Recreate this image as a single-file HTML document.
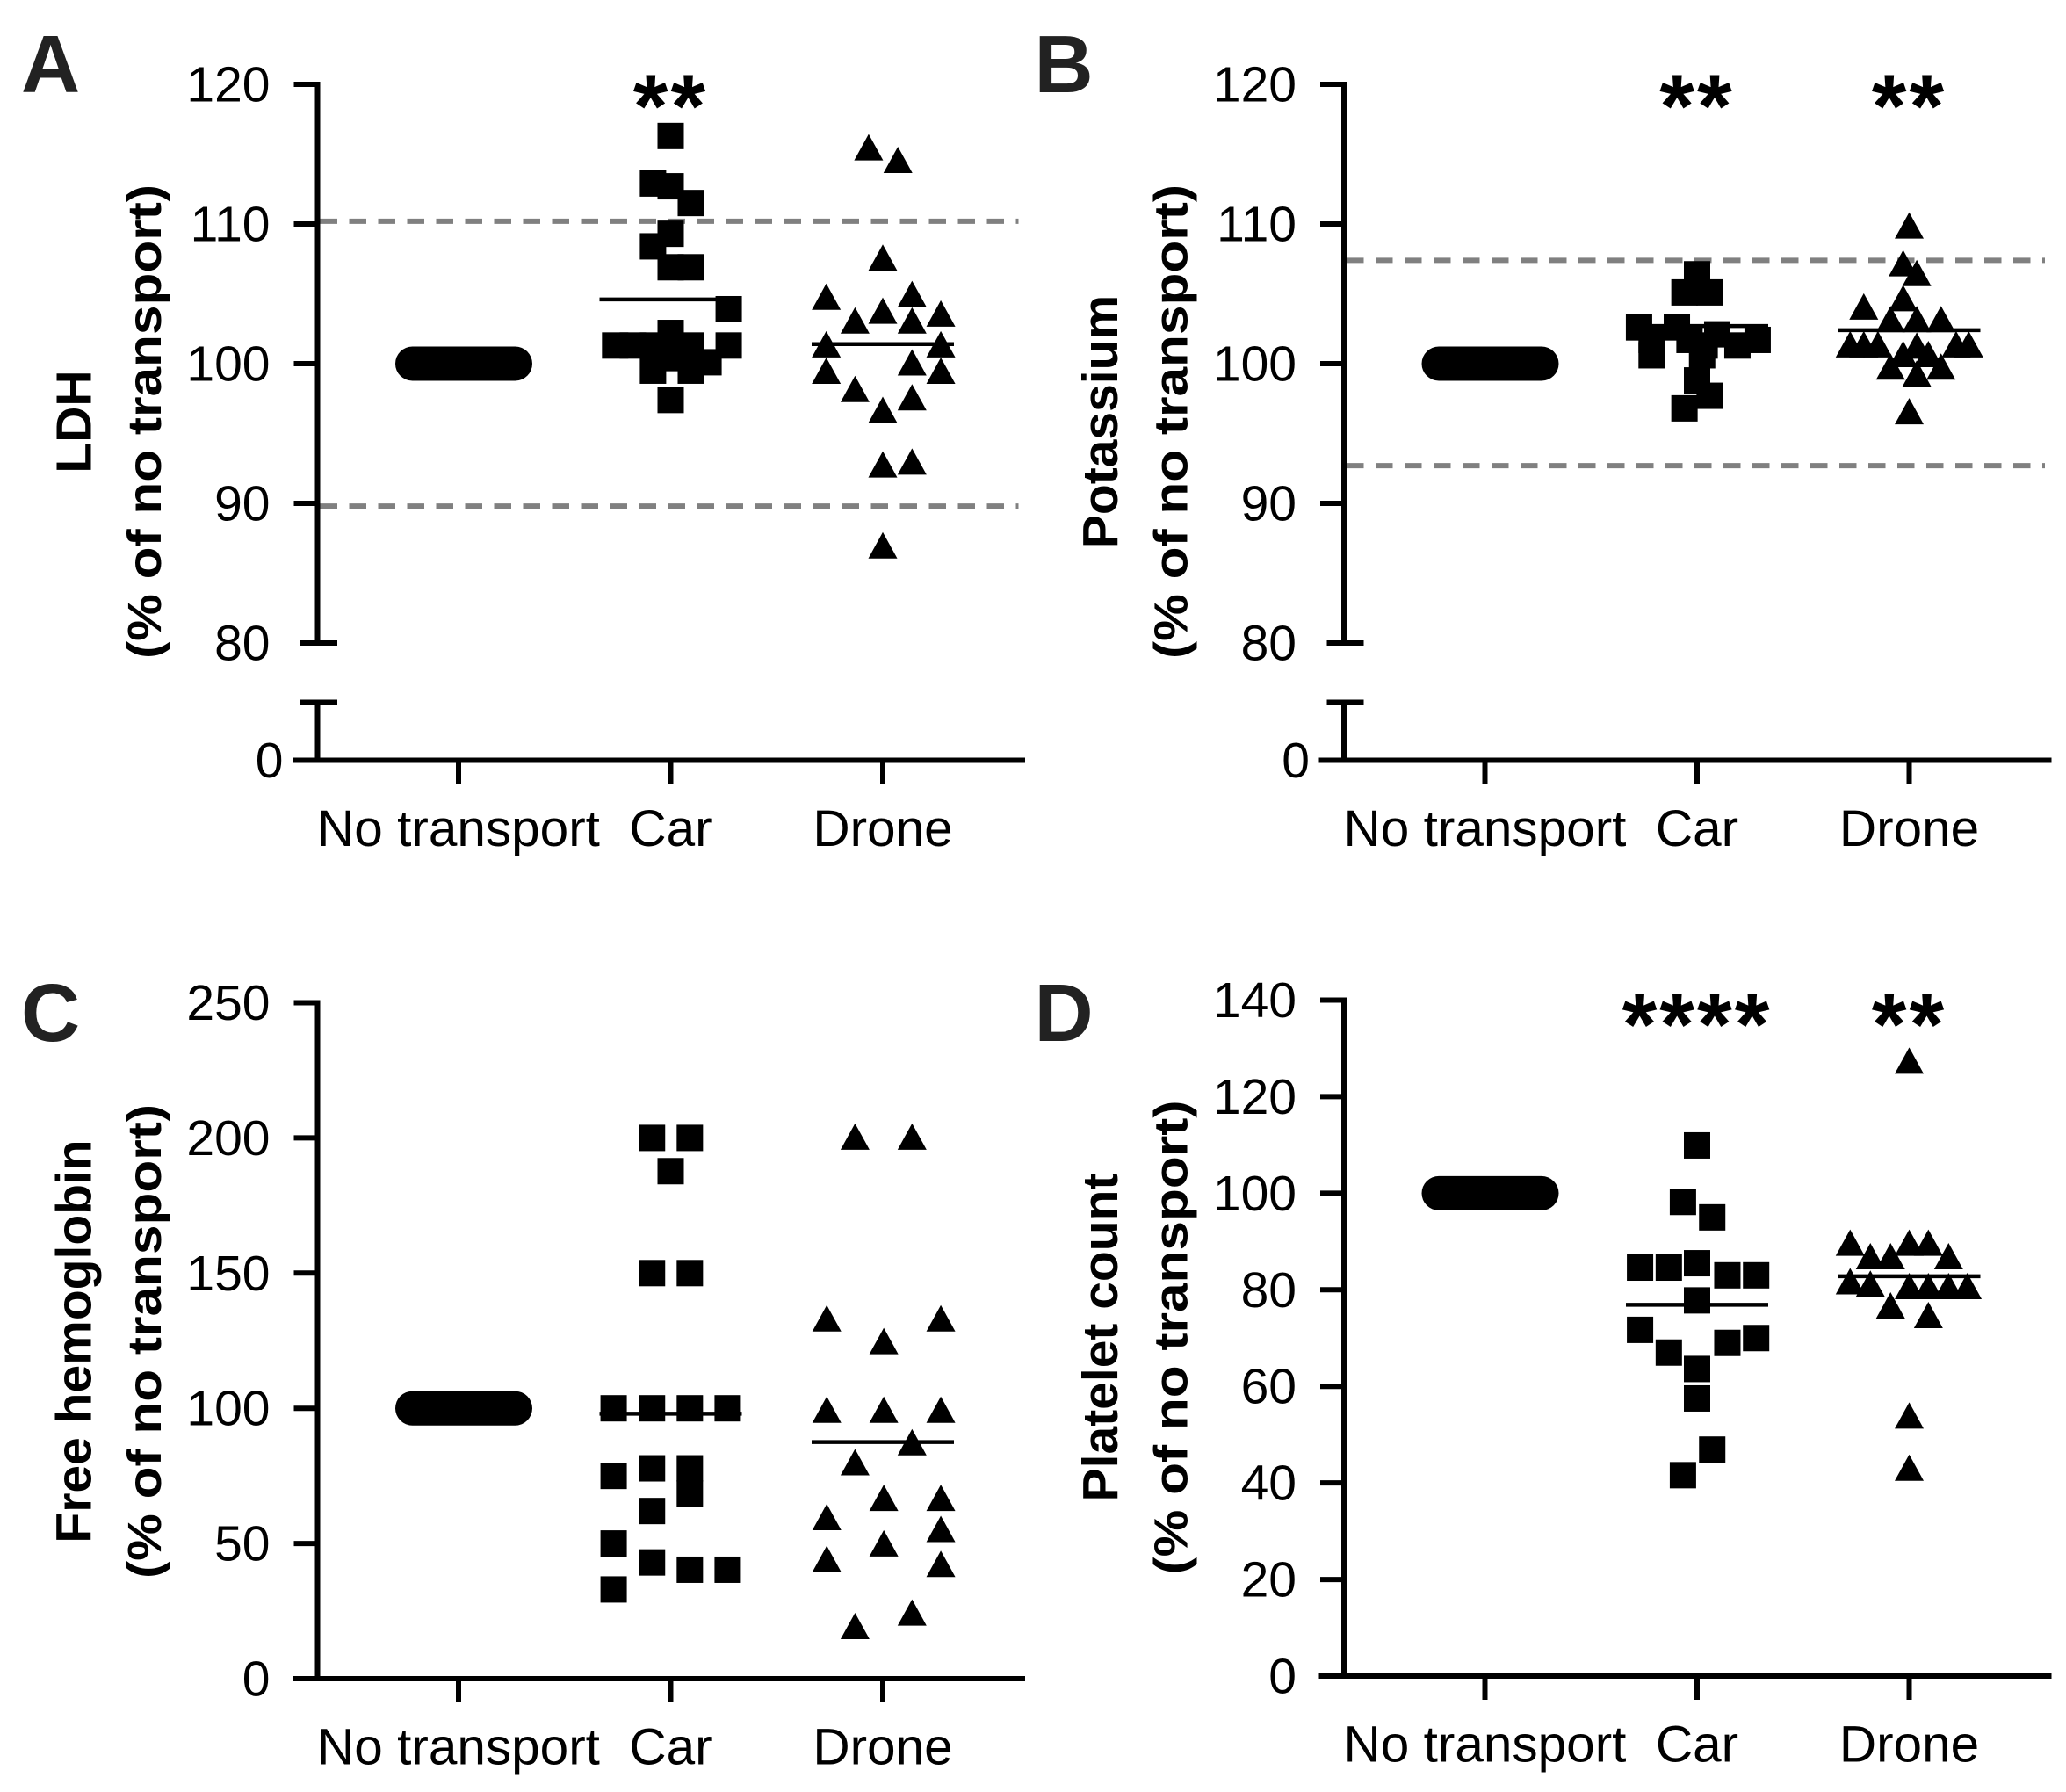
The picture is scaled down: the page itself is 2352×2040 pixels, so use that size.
<!DOCTYPE html>
<html><head><meta charset="utf-8"><style>
html,body{margin:0;padding:0;background:#fff;}
svg{display:block;font-family:"Liberation Sans",Arial,sans-serif;}
</style></head><body>
<svg id="fig" width="2352" height="2040" viewBox="0 0 1568 1360" xmlns="http://www.w3.org/2000/svg"></svg>
<script>
// ---- Data ----
const categories = ["No transport", "Car", "Drone"];

const ldhCar = [116.3,112.9,112.7,111.5,109.3,108.4,106.9,106.9,103.9,102.2,101.3,101.3,101.3,101.3,101.3,100.4,100.1,99.5,99.5,97.4];
const ldhCarJit = [0,-35,0,40,0,-35,0,40,115,0,-110,-75,-35,40,115,0,75,-35,40,0];
const ldhDrone = [115.4,114.5,107.5,104.7,104.9,103.7,103.5,103.0,103.0,101.3,101.3,100.0,99.4,99.4,98.1,97.5,96.6,92.9,92.7,86.9];
const ldhDroneJit = [-28,30,0,-112,58,0,115,-55,58,-112,115,58,-112,115,-55,58,0,58,0,0];
const ldhMeans = [100, 104.6, 101.4];
const ldhLimits = [110.2, 89.8];

const kCar = [106.4,105.1,105.1,102.6,102.6,102.1,101.7,101.7,101.3,101.3,101.7,100.6,100.6,98.8,97.7,96.8];
const kCarJit = [0,-25,25,-115,-40,40,-90,-15,15,80,120,-90,10,0,25,-25];
const kDrone = [109.8,107.1,106.4,104.6,104.0,103.1,103.1,103.1,101.3,101.3,101.3,101.3,101.3,101.2,100.6,100.6,99.7,99.7,99.2,96.5];
const kDroneJit = [0,-12,15,-12,-90,-37,15,63,-117,-90,-62,93,118,15,-12,38,-37,63,15,0];
const kMeans = [100, 102.7, 102.4];
const kLimits = [107.4, 92.7];

const hbCar = [200,200,187.7,150,150,100,100,100,100,75,77.8,77.8,68.5,62,50,43,40.3,40.3,33];
const hbCarJit = [-37,38,0,-37,38,-113,-37,38,113,-113,-37,38,38,-37,-113,-37,38,113,-113];
const hbDrone = [200,200,132.8,132.8,124.4,99,99,99,87,79.6,66.4,66.4,59.3,54.9,49.6,43.8,42,24,19];
const hbDroneJit = [-55,58,-111,115,2,-111,2,115,58,-55,2,115,-111,115,2,-111,115,58,-55];
const hbMeans = [100, 98, 87.5];

const pltCar = [109.9,98.2,95,84.6,84.6,85.5,83,83,77.8,71.7,69,70,67,63.6,57.5,46.9,41.6];
const pltCarJit = [0,-28,30,-113,-56,0,60,117,0,-113,60,117,-56,0,0,30,-28];
const pltDrone = [127.2,89.5,89.5,89.5,86.7,86.7,86.7,81.5,81,80.5,80.5,80.5,80.5,76.5,74.5,53.7,42.9];
const pltDroneJit = [0,-117,0,38,-77,-37,78,-117,-77,0,38,78,115,-37,38,0,0];
const pltMeans = [100, 76.9, 82.8];

const ticksA = [120,110,100,90,80];
const ticksC = [250,200,150,100,50,0];
const ticksD = [140,120,100,80,60,40,20,0];

// ---- Drawing ----
const NS = "http://www.w3.org/2000/svg";
const svg = document.getElementById("fig");
function el(tag, attrs, parent, text) {
  const e = document.createElementNS(NS, tag);
  for (const k in attrs) e.setAttribute(k, attrs[k]);
  if (text !== undefined) e.textContent = text;
  (parent || svg).appendChild(e);
  return e;
}
const JS = 0.383;
function drawPanel(p) {
  const g = el("g", {});
  
  
  const y = v => p.yTop + (p.vTop - v) / (p.vTop - p.vBot) * (p.yBot - p.yTop);
  const catX = i => p.x0 + i * 161;
  const ax = p.axisX, base = p.baseY;
  const L = el("text", {x: p.letterX, y: p.letterY, "font-size": 62, "font-weight": "bold", fill: "#222"}, g, p.letter);
  
  
  const tcx = ax - 185, tcy = p.titleCY;
  const t1 = el("text", {x: 0, y: 0, "font-size": 38, "font-weight": "bold", "text-anchor": "middle", transform: `translate(${tcx+13},${tcy}) rotate(-90)`}, g, p.title);
  
  
  const t2 = el("text", {x: 0, y: 0, "font-size": 36, "font-weight": "bold", "text-anchor": "middle", textLength: 360, lengthAdjust: "spacingAndGlyphs", transform: `translate(${tcx+66},${tcy}) rotate(-90)`}, g, "(% of no transport)");
  
  
  const yaxTop = y(p.vTop);
  const yaxBot = p.broken ? y(80) : base;
  const ya = el("line", {x1: ax, y1: yaxTop - 2, x2: ax, y2: yaxBot, stroke: "#000", "stroke-width": 4}, g);
  
  
  if (p.broken) {
    el("line", {x1: ax - 13, y1: yaxBot, x2: ax + 15, y2: yaxBot, stroke: "#000", "stroke-width": 4}, g);
    el("line", {x1: ax - 13, y1: base - 44, x2: ax + 15, y2: base - 44, stroke: "#000", "stroke-width": 4}, g);
    el("line", {x1: ax, y1: base - 44, x2: ax, y2: base, stroke: "#000", "stroke-width": 4}, g);
  }
  const xa = el("line", {x1: ax - 19, y1: base, x2: ax + 537, y2: base, stroke: "#000", "stroke-width": 4}, g);
  
  
  p.ticks.forEach(t => {
    const ty = y(t);
    if (!(p.broken && t === 80)) el("line", {x1: ax - 18, y1: ty, x2: ax, y2: ty, stroke: "#000", "stroke-width": 4}, g);
    const lb = el("text", {x: ax - 36, y: ty + 13, "font-size": 38, "text-anchor": "end"}, g, String(t));
    
    
  });
  if (p.broken) {
    const lb = el("text", {x: ax - 26, y: base + 13, "font-size": 38, "text-anchor": "end"}, g, "0");
    
    
  }
  categories.forEach((c, i) => {
    el("line", {x1: catX(i), y1: base, x2: catX(i), y2: base + 18, stroke: "#000", "stroke-width": 4}, g);
    const lb = el("text", {x: catX(i), y: base + 65, "font-size": 39, "text-anchor": "middle"}, g, c);
    
    
  });
  (p.limits || []).forEach(v => {
    const dl = el("line", {x1: ax + 2, y1: y(v), x2: ax + 532, y2: y(v), stroke: "#808080", "stroke-width": 4, "stroke-dasharray": "13,9"}, g);
    
    
  });
  const pill = el("rect", {x: catX(0) - 48, y: y(100) - 13, width: 104, height: 26, rx: 13, fill: "#000"}, g);
  
  
  p.car.forEach((v, i) => {
    const cx = catX(1) + p.carJit[i] * JS, cy = y(v);
    const r = el("rect", {x: cx - 10, y: cy - 10, width: 20, height: 20, fill: "#000"}, g);
    
    
  });
  p.drone.forEach((v, i) => {
    const cx = catX(2) + p.droneJit[i] * JS, cy = y(v);
    const t = el("polygon", {points: `${cx},${cy-11} ${cx+11},${cy+9} ${cx-11},${cy+9}`, fill: "#000"}, g);
    
    
  });
  [1, 2].forEach(i => {
    const m = el("line", {x1: catX(i) - 54, y1: y(p.means[i]), x2: catX(i) + 54, y2: y(p.means[i]), stroke: "#000", "stroke-width": 3}, g);
    
    
  });
  (p.sig || []).forEach((s, k) => {
    if (!s) return;
    const st = el("text", {x: catX(k + 1), y: p.sigY, "font-size": 68, "font-weight": "bold", "text-anchor": "middle", "letter-spacing": 2}, g, s);
    
    
  });
}

drawPanel({name: "panel-a-ldh", letter: "A", letterX: 16, letterY: 70, title: "LDH", titleCY: 320,
  axisX: 241, x0: 348, yTop: 64, yBot: 488, vTop: 120, vBot: 80, baseY: 577, broken: true, ticks: ticksA,
  car: ldhCar, carJit: ldhCarJit, drone: ldhDrone, droneJit: ldhDroneJit, means: ldhMeans, limits: ldhLimits,
  sig: ["**", ""], sigY: 104});
drawPanel({name: "panel-b-potassium", letter: "B", letterX: 785, letterY: 70, title: "Potassium", titleCY: 320,
  axisX: 1020, x0: 1127, yTop: 64, yBot: 488, vTop: 120, vBot: 80, baseY: 577, broken: true, ticks: ticksA,
  car: kCar, carJit: kCarJit, drone: kDrone, droneJit: kDroneJit, means: kMeans, limits: kLimits,
  sig: ["**", "**"], sigY: 104});
drawPanel({name: "panel-c-free-hemoglobin", letter: "C", letterX: 16, letterY: 790, title: "Free hemoglobin", titleCY: 1018,
  axisX: 241, x0: 348, yTop: 761, yBot: 1274, vTop: 250, vBot: 0, baseY: 1274, broken: false, ticks: ticksC,
  car: hbCar, carJit: hbCarJit, drone: hbDrone, droneJit: hbDroneJit, means: hbMeans, limits: [],
  sig: ["", ""], sigY: 790});
drawPanel({name: "panel-d-platelet-count", letter: "D", letterX: 785, letterY: 790, title: "Platelet count", titleCY: 1015,
  axisX: 1020, x0: 1127, yTop: 759, yBot: 1272, vTop: 140, vBot: 0, baseY: 1272, broken: false, ticks: ticksD,
  car: pltCar, carJit: pltCarJit, drone: pltDrone, droneJit: pltDroneJit, means: pltMeans, limits: [],
  sig: ["****", "**"], sigY: 801});
</script>
</body></html>
